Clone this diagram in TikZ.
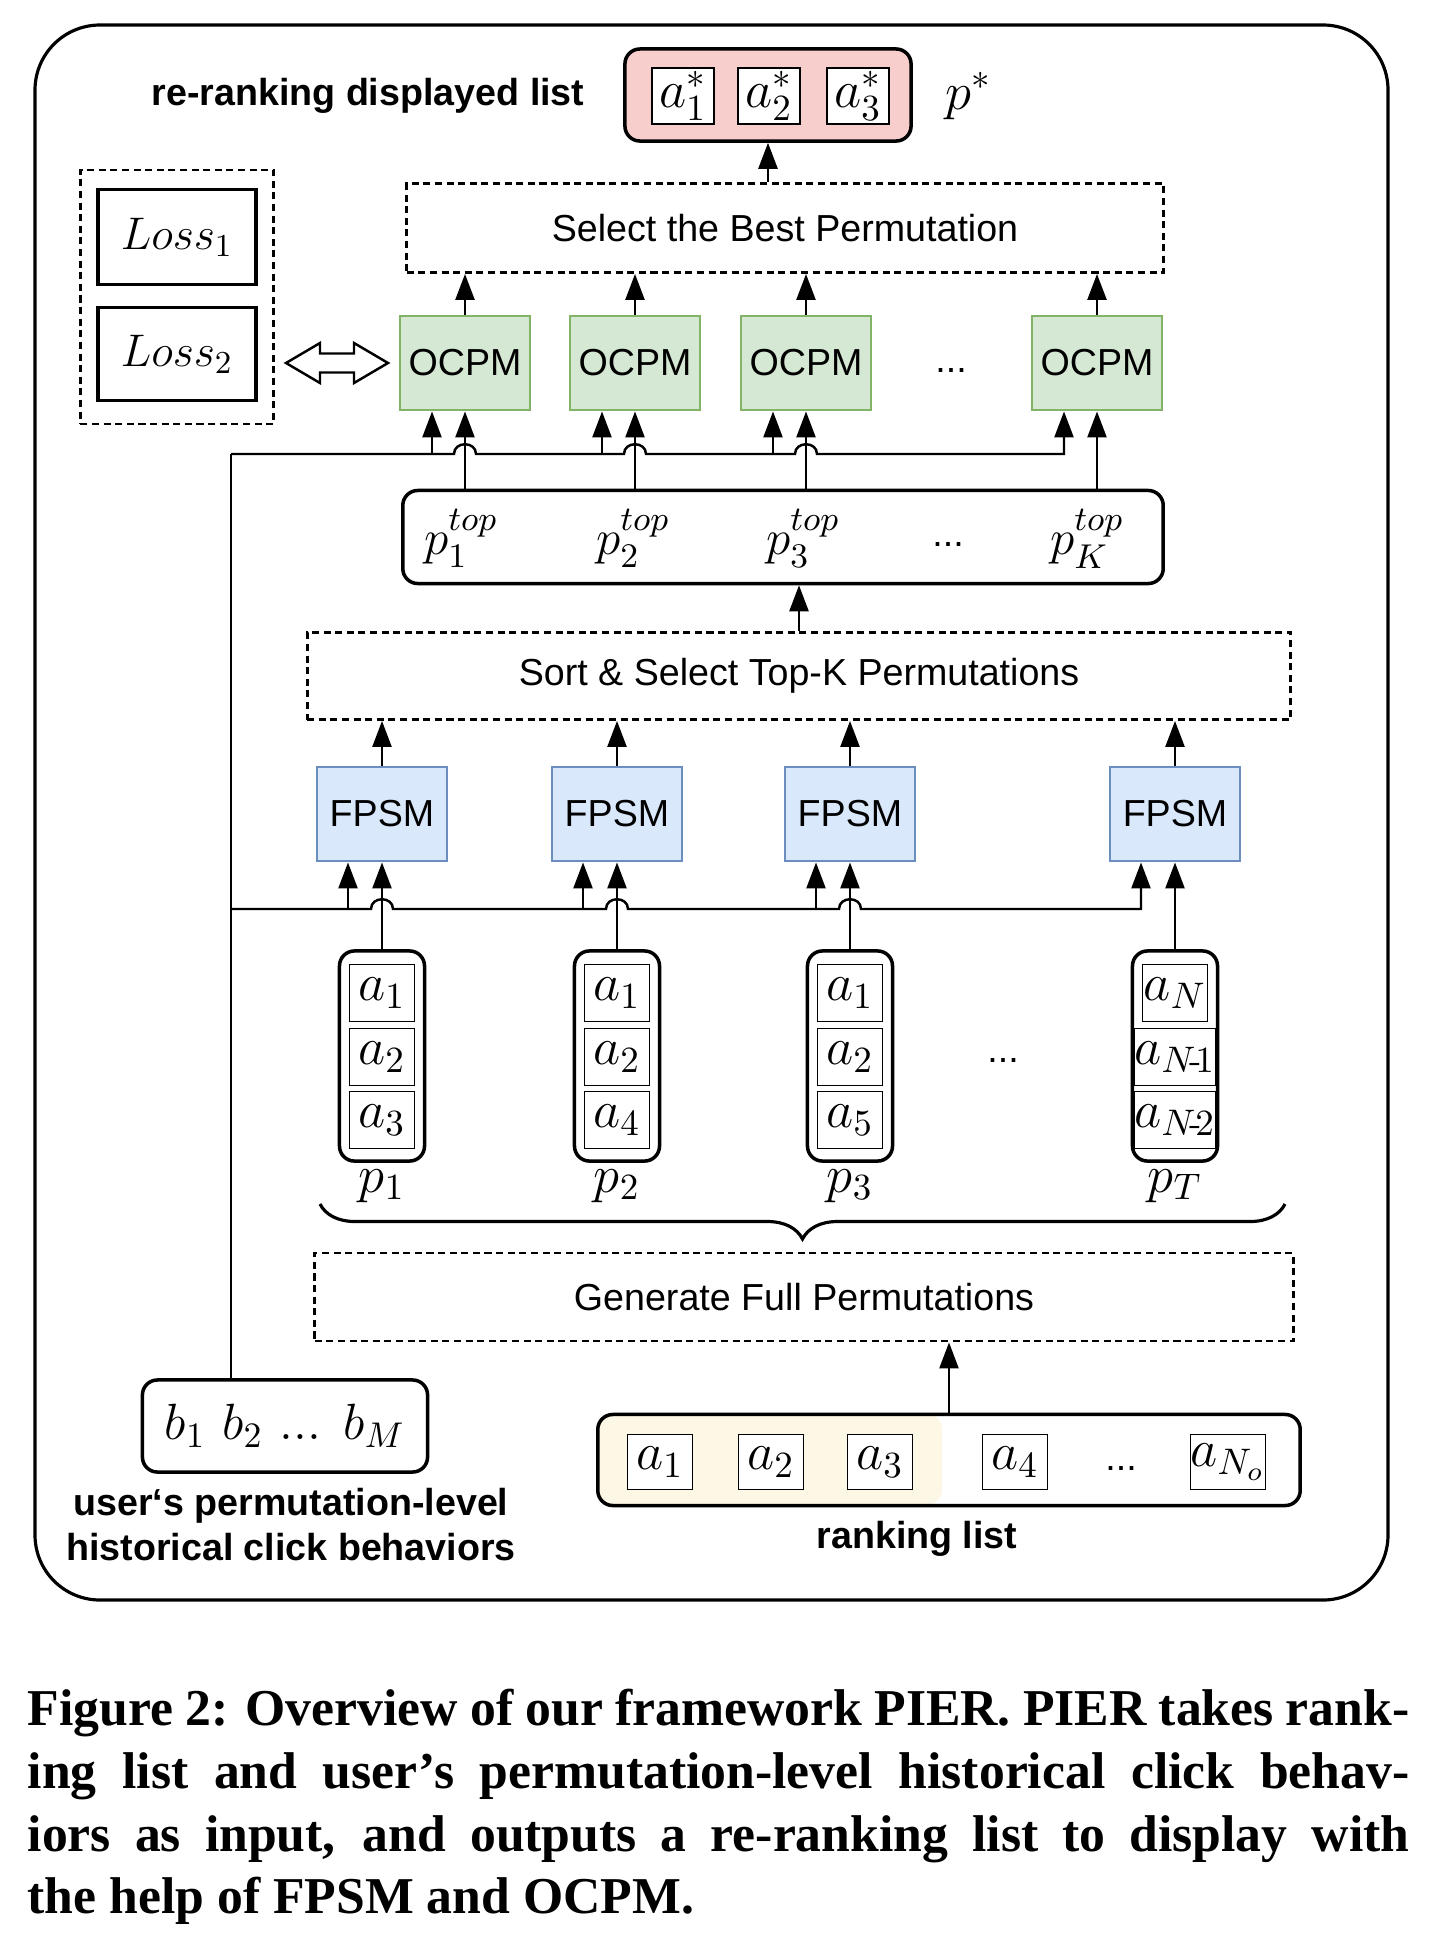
\RequirePackage{fix-cm}
\documentclass[tikz,border=0pt]{standalone}
\usepackage{amsmath}
\usepackage{fontspec}
\setsansfont{Liberation Sans}
\newfontfamily\capfont{Liberation Serif}
\usetikzlibrary{arrows.meta,calc,decorations.pathreplacing}

\definecolor{ocpmfill}{HTML}{D5E8D4}
\definecolor{ocpmline}{HTML}{82B366}
\definecolor{fpsmfill}{HTML}{DAE8FC}
\definecolor{fpsmline}{HTML}{6C8EBF}
\definecolor{outfill}{HTML}{F8CECC}
\definecolor{topfill}{HTML}{FDF8E5}

\newcommand{\labfont}{\sffamily\fontsize{10.7}{12.8}\selectfont}
\newcommand{\mfont}{\fontsize{15}{17}\selectfont}

\tikzset{
	arr/.style={-{Triangle[length=2.6mm,width=1.9mm]}, line width=0.7pt},
	stage/.style={draw, line width=0.8pt, dash pattern=on 2pt off 1.3pt, inner sep=0, font=\labfont},
	ocpm/.style={draw=ocpmline, fill=ocpmfill, line width=0.8pt, minimum width=1.3cm, minimum height=0.94cm, inner sep=0, font=\labfont},
	fpsm/.style={draw=fpsmline, fill=fpsmfill, line width=0.8pt, minimum width=1.3cm, minimum height=0.94cm, inner sep=0, font=\labfont},
	cell/.style={draw, fill=white, line width=0.5pt, minimum width=0.65cm, minimum height=0.57cm, inner sep=0, font=\mfont},
	listbox/.style={draw, rounded corners=0.15cm, line width=1pt, inner sep=0},
	title/.style={font=\labfont\bfseries, inner sep=0, align=center},
	mlab/.style={font=\mfont, inner sep=0},
}

\begin{document}
\begin{tikzpicture}[x=0.01cm, y=-0.01cm]
	\useasboundingbox (0,0) rectangle (1446,1936);
	\draw[line width=0.9pt, rounded corners=0.65cm] (35,25) rectangle (1388,1600);

	% output list
	\node[title] (outtitle) at (368,96) {re-ranking displayed list};
	\node[listbox, fill=outfill, minimum width=2.86cm, minimum height=0.92cm] (out) at (768,95) {};
	\node[cell, minimum width=0.62cm, minimum height=0.56cm] (o1) at (683,96) {$a_1^*$};
	\node[cell, minimum width=0.62cm, minimum height=0.56cm] (o2) at (769,96) {$a_2^*$};
	\node[cell, minimum width=0.62cm, minimum height=0.56cm] (o3) at (858,96) {$a_3^*$};
	\node[mlab] (pstar) at (969,96) {$p^*$};

	\node[stage, minimum width=7.56cm, minimum height=0.89cm] (best) at (785,228) {Select the Best Permutation};
	\draw[arr] (out.south |- best.north) -- (out.south);

	% losses
	\node[stage, minimum width=1.93cm, minimum height=2.54cm] (loss) at (177,297) {};
	\node[draw, line width=1.1pt, minimum width=1.58cm, minimum height=0.95cm, font=\fontsize{13}{15}\selectfont] (loss1) at (177,237) {$Loss_1$};
	\node[draw, line width=1.1pt, minimum width=1.58cm, minimum height=0.93cm, font=\fontsize{13}{15}\selectfont] (loss2) at (177,354) {$Loss_2$};
	\draw[line width=0.7pt, fill=white] (286,363) -- (320,343) -- (320,353.5) -- (354,353.5) -- (354,343)
		-- (388,363) -- (354,383) -- (354,372.5) -- (320,372.5) -- (320,383) -- cycle;

	% OCPM
	\foreach \i/\x in {1/465,2/635,3/806,4/1097}
		\node[ocpm] (ocpm\i) at (\x,363) {OCPM};
	\node[font=\labfont, anchor=base, inner sep=0] (odots) at (951,372) {...};
	\foreach \i in {1,...,4}
		\draw[arr] (ocpm\i.north) -- (ocpm\i.north |- best.south);

	% top-K permutations
	\node[listbox, minimum width=7.60cm, minimum height=0.93cm] (ptop) at (783,537) {};
	\node[mlab, anchor=base, font=\fontsize{14}{16}\selectfont] (pt1) at (461,554) {$p_1^{top}$};
	\node[mlab, anchor=base, font=\fontsize{14}{16}\selectfont] (pt2) at (633,554) {$p_2^{top}$};
	\node[mlab, anchor=base, font=\fontsize{14}{16}\selectfont] (pt3) at (803,554) {$p_3^{top}$};
	\node[font=\labfont, anchor=base, inner sep=0] (tdots) at (948,546) {...};
	\node[mlab, anchor=base, font=\fontsize{14}{16}\selectfont] (ptK) at (1087,554) {$p_K^{top}$};
	\foreach \i in {1,...,4}
		\draw[arr] (ocpm\i.south |- ptop.north) -- (ocpm\i.south);

	\coordinate (obus) at (231,454);
	\coordinate (fbus) at (231,909);
	\draw[arr] (obus)
		-- ($(ocpm1.south |- obus)+(-11,0)$) .. controls +(0,-13) and +(0,-13) .. ($(ocpm1.south |- obus)+(11,0)$)
		-- ($(ocpm2.south |- obus)+(-11,0)$) .. controls +(0,-13) and +(0,-13) .. ($(ocpm2.south |- obus)+(11,0)$)
		-- ($(ocpm3.south |- obus)+(-11,0)$) .. controls +(0,-13) and +(0,-13) .. ($(ocpm3.south |- obus)+(11,0)$)
		-- ($(ocpm4.south |- obus)+(-33,0)$) -- ($(ocpm4.south)+(-33,0)$);
	\foreach \i in {1,2,3}
		\draw[arr] ($(ocpm\i.south |- obus)+(-33,0)$) -- ($(ocpm\i.south)+(-33,0)$);

	\node[stage, minimum width=9.83cm, minimum height=0.87cm] (sort) at (799,676) {Sort \& Select Top-K Permutations};
	\draw[arr] (sort.north) -- (sort.north |- ptop.south);

	% FPSM
	\foreach \i/\x in {1/382,2/617,3/850,4/1175}
		\node[fpsm] (fpsm\i) at (\x,814) {FPSM};
	\foreach \i in {1,...,4}
		\draw[arr] (fpsm\i.north) -- (fpsm\i.north |- sort.south);

	% full permutations
	\foreach \i/\x/\ta/\tb/\tc/\lab in {1/382/a_1/a_2/a_3/p_1, 2/617/a_1/a_2/a_4/p_2, 3/850/a_1/a_2/a_5/p_3, 4/1175/a_N/a_{N\!\text{-}\!1}/a_{N\!\text{-}\!2}/p_T}{
		\node[listbox, minimum width=0.85cm, minimum height=2.10cm] (col\i) at (\x,1056) {};
		\node[cell] (c\i a) at (\x,993) {$\ta$};
		\node[cell] (c\i b) at (\x,1057) {$\tb$};
		\node[cell] (c\i c) at (\x,1120) {$\tc$};
		\node[mlab, anchor=base] (plab\i) at (\x,1192) {$\lab$};
		\draw[arr] (col\i.north) -- (fpsm\i.south);
	}
	\node[font=\labfont, anchor=base, inner sep=0] (cdots) at (1003,1062) {...};

	\draw[arr] (fbus)
		-- ($(col1.north |- fbus)+(-11,0)$) .. controls +(0,-13) and +(0,-13) .. ($(col1.north |- fbus)+(11,0)$)
		-- ($(col2.north |- fbus)+(-11,0)$) .. controls +(0,-13) and +(0,-13) .. ($(col2.north |- fbus)+(11,0)$)
		-- ($(col3.north |- fbus)+(-11,0)$) .. controls +(0,-13) and +(0,-13) .. ($(col3.north |- fbus)+(11,0)$)
		-- ($(fpsm4.south |- fbus)+(-34,0)$) -- ($(fpsm4.south)+(-34,0)$);
	\foreach \i in {1,2,3}
		\draw[arr] ($(fpsm\i.south |- fbus)+(-34,0)$) -- ($(fpsm\i.south)+(-34,0)$);

	\draw[line width=0.9pt, decorate, decoration={brace, mirror, amplitude=0.35cm}] (320,1204) -- (1285,1204);
	\node[stage, minimum width=9.78cm, minimum height=0.88cm] (gen) at (804,1297) {Generate Full Permutations};

	% history
	\node[listbox, minimum width=2.85cm, minimum height=0.92cm, font=\fontsize{14.5}{16}\selectfont] (hist) at (285,1426) {$b_1$ $b_2$ ... $b_M$};
	\node[title] (histlab) at (291,1525) {user‘s permutation-level\\historical click behaviors};
	\draw[line width=0.7pt] (hist.north -| obus) -- (obus);

	% ranking list
	\begin{scope}
		\clip[rounded corners=0.15cm] (598,1414) rectangle (1300,1505);
		\fill[topfill, rounded corners=0.15cm] (580,1414) rectangle (942,1505);
	\end{scope}
	\node[listbox, minimum width=7.02cm, minimum height=0.91cm] (rank) at (949,1460) {};
	\foreach \x/\t [count=\i] in {660/a_1, 771/a_2, 880/a_3, 1015/a_4, 1228/a_{N_o}}
		\node[cell, minimum height=0.55cm] (r\i) at (\x,1462) {$\t$};
	\node[font=\labfont, anchor=base, inner sep=0] (rdots) at (1121,1470) {...};
	\draw[arr] (rank.north) -- (rank.north |- gen.south);
	\node[title] (ranklab) at (917,1539) {ranking list};

	% caption
	\node[anchor=north west, text width=13.81cm, align=justify, inner sep=0, font=\capfont\bfseries\fontsize{14.7}{17.9}\selectfont] (cap) at (27,1688)
		{Figure 2: Overview of our framework PIER. PIER takes rank-\linebreak ing list and user’s permutation-level historical click behav-\linebreak iors as input, and outputs a re-ranking list to display with\linebreak the help of FPSM and OCPM.};
\end{tikzpicture}
\end{document}
